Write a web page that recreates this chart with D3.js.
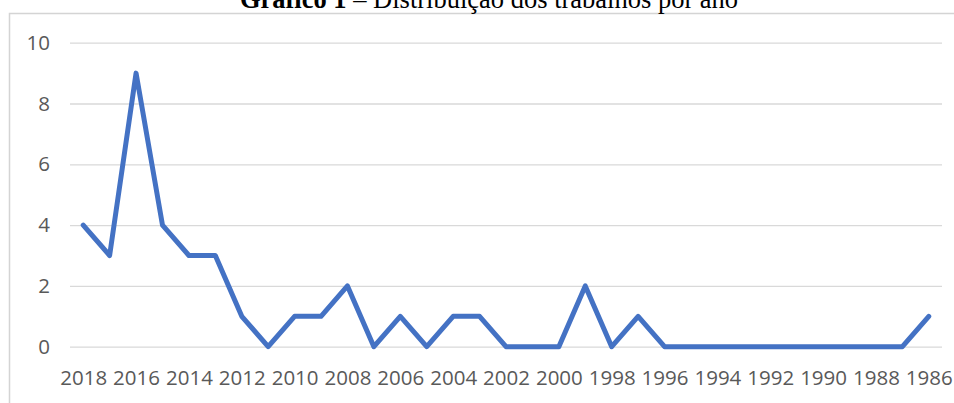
<!DOCTYPE html>
<html>
<head>
<meta charset="utf-8">
<script src="https://cdn.jsdelivr.net/npm/d3@7"></script>
<style>
  body { margin: 0; background: #fff; }
  svg { display: block; }
</style>
</head>
<body>
<div id="chart"></div>
<script>
// data
var years = [2018, 2017, 2016, 2015, 2014, 2013, 2012, 2011, 2010, 2009, 2008,
  2007, 2006, 2005, 2004, 2003, 2002, 2001, 2000, 1999, 1998, 1997, 1996,
  1995, 1994, 1993, 1992, 1991, 1990, 1989, 1988, 1987, 1986];
var counts = [4, 3, 9, 4, 3, 3, 1, 0, 1, 1, 2,
  0, 1, 0, 1, 1, 0, 0, 0, 2, 0, 1, 0,
  0, 0, 0, 0, 0, 0, 0, 0, 0, 1];
var yTicks = [0, 2, 4, 6, 8, 10];
var xTickLabels = years.filter(function (y) { return y % 2 === 0; });

var titleBold = "Gráfico 1";
var titleRest = " – Distribuição dos trabalhos por ano";

var W = 954, H = 403;
var plot = { left: 70, right: 942, top: 42.7, bottom: 346.7 };

var svg = d3.select("#chart").append("svg")
  .attr("width", W)
  .attr("height", H);

// frame around chart
svg.append("rect")
  .attr("x", 9.5)
  .attr("y", 13.5)
  .attr("width", W)
  .attr("height", H)
  .attr("fill", "none")
  .attr("stroke", "#d4d4d4")
  .attr("stroke-width", 1.5);

// title, cut by the top edge like in the source
var title = svg.append("text")
  .attr("x", 489)
  .attr("y", 8)
  .attr("text-anchor", "middle")
  .style("font-family", "'Liberation Serif', 'Times New Roman', serif")
  .style("font-size", "26.5px")
  .attr("fill", "#000");
title.append("tspan").attr("font-weight", "bold").text(titleBold);
title.append("tspan").text(titleRest);

var xScale = d3.scalePoint()
  .domain(years)
  .range([plot.left, plot.right])
  .padding(0.5);
var yScale = d3.scaleLinear()
  .domain([0, 10])
  .range([plot.bottom, plot.top]);

// y axis + gridlines
var yAxis = svg.append("g")
  .attr("class", "y axis")
  .attr("transform", "translate(" + plot.left + ",0)")
  .call(d3.axisLeft(yScale)
    .tickValues(yTicks)
    .tickSize(-(plot.right - plot.left))
    .tickPadding(20));
yAxis.select(".domain").remove();
yAxis.selectAll("line").attr("stroke", "#d9d9d9").attr("stroke-width", 1.3);
yAxis.selectAll("text")
  .attr("fill", "#595959")
  .style("font-family", "'Open Sans', 'Noto Sans', sans-serif")
  .style("font-size", "20.5px");

// x axis labels
var xAxis = svg.append("g")
  .attr("class", "x axis")
  .attr("transform", "translate(0," + plot.bottom + ")")
  .call(d3.axisBottom(xScale)
    .tickValues(xTickLabels)
    .tickSize(0)
    .tickPadding(24));
xAxis.select(".domain").remove();
xAxis.selectAll("text")
  .attr("fill", "#595959")
  .style("font-family", "'Open Sans', 'Noto Sans', sans-serif")
  .style("font-size", "20.5px");

// the series line
var line = d3.line()
  .x(function (d, i) { return xScale(years[i]); })
  .y(function (d) { return yScale(d); });

svg.append("path")
  .datum(counts)
  .attr("fill", "none")
  .attr("stroke", "#4472c4")
  .attr("stroke-width", 5)
  .attr("stroke-linejoin", "round")
  .attr("stroke-linecap", "round")
  .attr("d", line);
</script>
</body>
</html>
